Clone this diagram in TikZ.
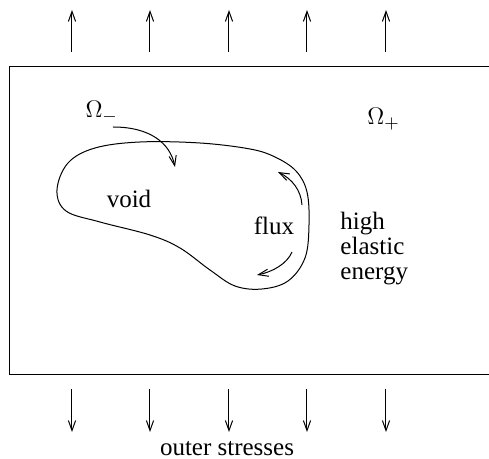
\documentclass[tikz,border=0pt]{standalone}
\usepackage{fontspec}
\setmainfont{Liberation Serif}
\usetikzlibrary{arrows.meta}

\begin{document}
\begin{tikzpicture}[x=0.5pt,y=-0.5pt,line width=0.5pt,
    barb/.style={-{Straight Barb[length=5pt,width=3.6pt]}},
    lbl/.style={font=\fontsize{12.5}{12.5}\selectfont, inner sep=0pt}]
  \useasboundingbox (0,0) rectangle (489,459);
  \clip (0,0) rectangle (489,459);
  % the body, its right side runs off the page
  \draw (500,67) -- (9.5,67) -- (9.5,375) -- (500,375);
  \foreach \x in {72,150,229,307,386} {
    \draw[barb] (\x,52) -- (\x,10);
    \draw[barb] (\x,389) -- (\x,432);
  }
  \node[lbl, anchor=base] (stress) at (227,456) {outer stresses};
  % void
  \draw plot[smooth cycle, tension=0.6] coordinates {
    (57,190) (68,163) (95,148) (140,142) (200,143) (250,149) (275,157)
    (296,171) (307,192) (309,225) (305,258) (288,281) (262,289) (235,286)
    (210,270) (180,248) (150,235) (100,222) (66,211)};
  \node[lbl, anchor=base] (void) at (129,208) {void};
  \node[lbl, anchor=base] (flux) at (274,235) {flux};
  \node[lbl, anchor=base west] (omm) at (85,118) {$\Omega_-$};
  \node[lbl, anchor=base west] (omp) at (367,125) {$\Omega_+$};
  \node[lbl, anchor=north west, align=left] (energy) at (340,212)
    {high\\elastic\\energy};
  \coordinate (into) at (175,167);
  \coordinate (omstart) at (113,127);
  \draw[barb] (omstart) .. controls (150,127) and (170,143) .. (into);
  \coordinate (fluxa) at (302,205);
  \coordinate (fluxb) at (278,172);
  \coordinate (fluxc) at (292,252);
  \coordinate (fluxd) at (257,275);
  \draw[barb] (fluxa) .. controls (301,190) and (292,179) .. (fluxb);
  \draw[barb] (fluxc) .. controls (287,264) and (272,272) .. (fluxd);
\end{tikzpicture}
\end{document}
